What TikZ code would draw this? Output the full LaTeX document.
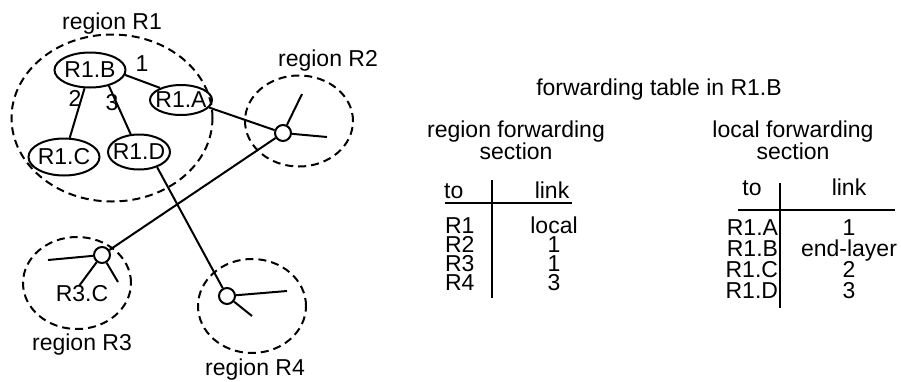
\documentclass[tikz,border=0pt]{standalone}
\usepackage{fontspec}
\setmainfont{Liberation Sans}
\usetikzlibrary{shapes.geometric,positioning}

\begin{document}
\begin{tikzpicture}[x=1pt,y=-1pt,node distance=19pt,on grid,
    every node/.style={font=\fontsize{23}{22}\selectfont,inner sep=0pt},
    wire/.style={line width=2pt},
    area/.style={draw,ellipse,line width=2pt,dash pattern=on 8pt off 5pt},
    host/.style={draw,ellipse,line width=2pt},
    router/.style={draw,circle,line width=2pt,minimum size=16pt},
    tabcell/.style={text height=16.5pt,text depth=0pt},
    leftcol/.style={tabcell,text width=40pt,align=left},
    rightcol/.style={tabcell,text width=60pt,align=right}]
\useasboundingbox (0,0) rectangle (901,381);

\node[area,minimum width=201pt,minimum height=167pt] (reg1) at (112,118) {};
\node[area,minimum width=108pt,minimum height=91pt] (reg2) at (299,121) {};
\node[area,minimum width=108pt,minimum height=92pt] (reg3) at (77,283) {};
\node[area,minimum width=108pt,minimum height=94pt] (reg4) at (252,306) {};
\node[anchor=base] (lbl1) at (112,29) {region R1};
\node[anchor=base] (lbl2) at (328,66) {region R2};
\node[anchor=base] (lbl3) at (82,350) {region R3};
\node[anchor=base] (lbl4) at (255,375) {region R4};

\node[host,minimum width=71pt,minimum height=35pt,label=center:R1.B] (r1b) at (90,70) {};
\node[host,minimum width=62pt,minimum height=30pt,label=center:R1.A] (r1a) at (181,100) {};
\node[host,minimum width=71pt,minimum height=37pt,label=center:R1.C] (r1c) at (64,157) {};
\node[host,minimum width=62pt,minimum height=35pt,label=center:R1.D] (r1d) at (139,152) {};
\node[anchor=base] (l1) at (142,71) {1};
\node[anchor=base] (l2) at (75,106) {2};
\node[anchor=base] (l3) at (112,110) {3};

\node[router] (rt2) at (283,133) {};
\node[router] (rt3) at (102,255) {};
\node[router] (rt4) at (227,296) {};
\node[anchor=base] (r3c) at (82,301) {R3.C};
\coordinate (s2a) at (302,94);
\coordinate (s2b) at (327,137);
\coordinate (s3a) at (48,260);
\coordinate (s3b) at (79,286);
\coordinate (s3c) at (118,282);
\coordinate (s4a) at (287,291);
\coordinate (s4b) at (252,316);

\path[wire]
  (r1b.-8) edge (r1a.150)
  (r1b) edge (r1c)
  (r1b.-40) edge (r1d.115)
  (r1a.-15) edge (rt2)
  (rt2) edge (rt3)
  (r1d.-40) edge (rt4)
  (rt2) edge (s2a)
  (rt2) edge (s2b)
  (rt3) edge (s3a)
  (rt3) edge (s3b)
  (rt3) edge (s3c)
  (rt4) edge (s4a)
  (rt4) edge (s4b)
  ;

\node[anchor=base] (title) at (659,95) {forwarding table in R1.B};
\node[align=center] (rsec) at (516,140.6) {region forwarding\\section};
\node[align=center] (lsec) at (793,140.6) {local forwarding\\section};

\node[anchor=base west] (rto) at (444,198) {to};
\node[anchor=base] (rlink) at (552,198) {link};
\node[leftcol] (rd1) at (465,224.75) {R1};
\node[leftcol,below=of rd1] (rd2) {R2};
\node[leftcol,below=of rd2] (rd3) {R3};
\node[leftcol,below=of rd3] (rd4) {R4};
\node[tabcell] (rv1) at (554,224.75) {local};
\node[tabcell,below=of rv1] (rv2) {1};
\node[tabcell,below=of rv2] (rv3) {1};
\node[tabcell,below=of rv3] (rv4) {3};
\draw[wire] (445,203) -- (572,203);
\draw[wire] (492,180) -- (492,298);

\node[anchor=base] (lto) at (752,195) {to};
\node[anchor=base] (llink) at (849,195) {link};
\node[rightcol] (ld1) at (748,226.75) {R1.A};
\node[rightcol,below=21pt of ld1] (ld2) {R1.B};
\node[rightcol,below=21pt of ld2] (ld3) {R1.C};
\node[rightcol,below=21pt of ld3] (ld4) {R1.D};
\node[tabcell] (lv1) at (849,226.75) {1};
\node[tabcell,below=21pt of lv1] (lv2) {end-layer};
\node[tabcell,below=21pt of lv2] (lv3) {2};
\node[tabcell,below=21pt of lv3] (lv4) {3};
\draw[wire] (738,210) -- (895,210);
\draw[wire] (780,183) -- (780,308);
\end{tikzpicture}
\end{document}
